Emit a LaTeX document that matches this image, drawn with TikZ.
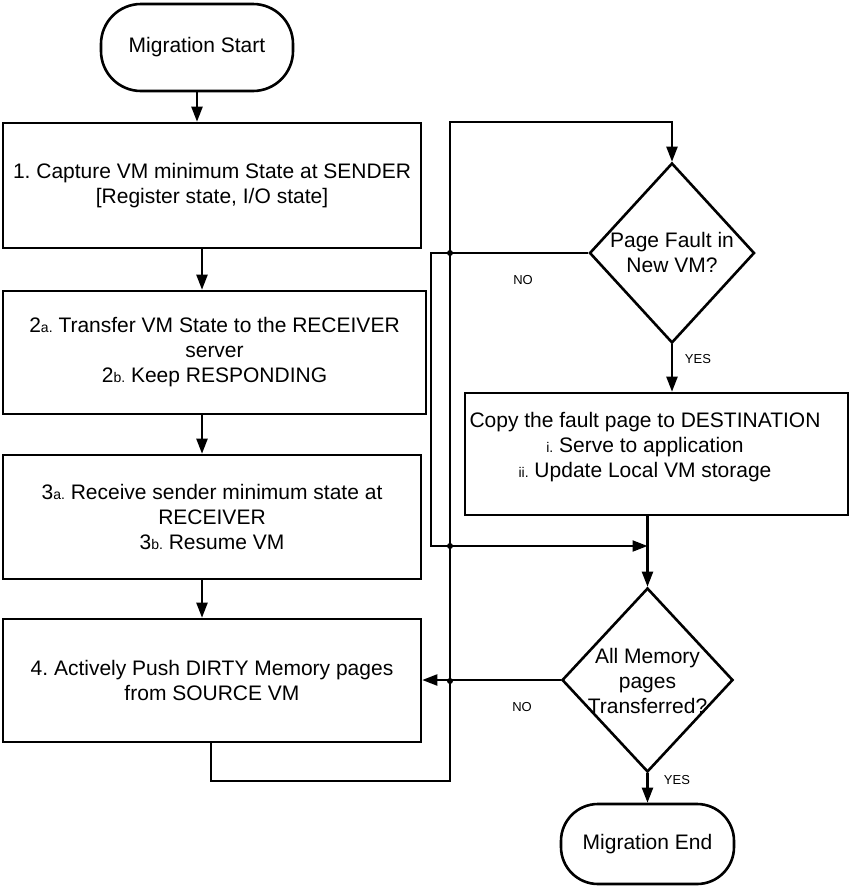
\documentclass[tikz,border=0pt]{standalone}
\usepackage{fontspec}
\setmainfont{Liberation Sans}
\usetikzlibrary{shapes.geometric,arrows.meta}
\newcommand{\sm}[1]{{\fontsize{14}{14}\selectfont #1}}
\frenchspacing
\begin{document}
\begin{tikzpicture}[x=1pt,y=-1pt,
  txt/.style={align=center,font=\fontsize{21}{25}\selectfont\frenchspacing,inner sep=0pt},
  stepbox/.style={draw,line width=2.6pt,rectangle,inner sep=0pt,align=center,font=\fontsize{21}{25}\selectfont\frenchspacing},
  term/.style={stepbox,rounded corners=40pt},
  decision/.style={draw,line width=2.6pt,diamond,inner sep=0pt,minimum width=165pt,minimum height=180pt},
  lbl/.style={font=\fontsize{13}{15}\selectfont,inner sep=0pt},
  conn/.style={line width=2.2pt},
  arr/.style={conn,-{Triangle[length=15pt,width=11pt]}},
  dot/.style={fill,circle,inner sep=0pt,minimum size=6pt}
]
\useasboundingbox (0,0) rectangle (850,887);

% left column
\node[term,minimum width=192pt,minimum height=87pt] (start) at (197,47.5) {Migration Start};
\node[stepbox,minimum width=418pt,minimum height=125pt] (b1) at (212,185.5)
  {1. Capture VM minimum State at SENDER\\{}[Register state, I/O state]};
\node[stepbox,minimum width=423pt,minimum height=123pt] (b2) at (214.5,352.5)
  {2\sm{a.} Transfer VM State to the RECEIVER\\server\\2\sm{b.} Keep RESPONDING};
\node[stepbox,minimum width=418pt,minimum height=124pt] (b3) at (212,517)
  {3\sm{a.} Receive sender minimum state at\\RECEIVER\\3\sm{b.} Resume VM};
\node[stepbox,minimum width=418pt,minimum height=123pt] (b4) at (212,680.5)
  {4. Actively Push DIRTY Memory pages\\from SOURCE VM};

% right column
\node[decision] (d1) at (672,253) {};
\node[txt] (d1t) at (672,252) {Page Fault in\\New VM?};
\node[stepbox,minimum width=383pt,minimum height=122pt] (cp) at (656.5,454) {};
\node[txt] (cpt) at (645,447) {Copy the fault page to DESTINATION\\\sm{i.} Serve to application\\\sm{ii.} Update Local VM storage};
\node[decision,minimum width=171pt,minimum height=184pt] (d2) at (647.5,680) {};
\node[txt] (d2t) at (647.5,681) {All Memory\\pages\\Transferred?};
\node[term,minimum width=173pt,minimum height=80pt,rounded corners=37pt] (end) at (647.5,844) {Migration End};

% labels
\node[lbl] (no1) at (523,280) {NO};
\node[lbl] (yes1) at (698,359) {YES};
\node[lbl] (no2) at (522,707) {NO};
\node[lbl] (yes2) at (677,780) {YES};

% helper coordinates
\coordinate (l1) at (211,781);
\coordinate (l2) at (450,781);
\coordinate (l3) at (450,122);
\coordinate (n1) at (431,253);
\coordinate (n2) at (431,546);
\coordinate (x1) at (450,253);
\coordinate (x2) at (450,546);
\coordinate (x3) at (450,681);

% main flow
\draw[arr] (start.south) -- (start.south |- b1.north);
\draw[arr] ([xshift=-10pt]b1.south) -- ([xshift=-10pt]b1.south |- b2.north);
\draw[arr] ([xshift=-10pt]b1.south |- b2.south) -- ([xshift=-10pt]b1.south |- b3.north);
\draw[arr] ([xshift=-10pt]b3.south) -- ([xshift=-10pt]b3.south |- b4.north);

% loop from step 4 to page fault check
\draw[arr] (b4.south -| l1) -- (l1) -- (l2) -- (l3) -- (l3 -| d1.north) -- (d1.north);

% page fault decision
\draw[arr] (d1.south) -- (d1.south |- cp.north);
\draw[arr] (d1.west) -- (n1) -- (n2) -- (n2 -| d2.north);
\draw[arr] (d2.north |- cp.south) -- (d2.north);

% all pages decision
\draw[arr] (d2.west) -- (d2.west -| b4.east);
\draw[arr] (d2.south) -- (end.north);

% crossing dots
\node[dot] (k1) at (x1) {};
\node[dot] (k2) at (x2) {};
\node[dot] (k3) at (x3) {};
\end{tikzpicture}
\end{document}
